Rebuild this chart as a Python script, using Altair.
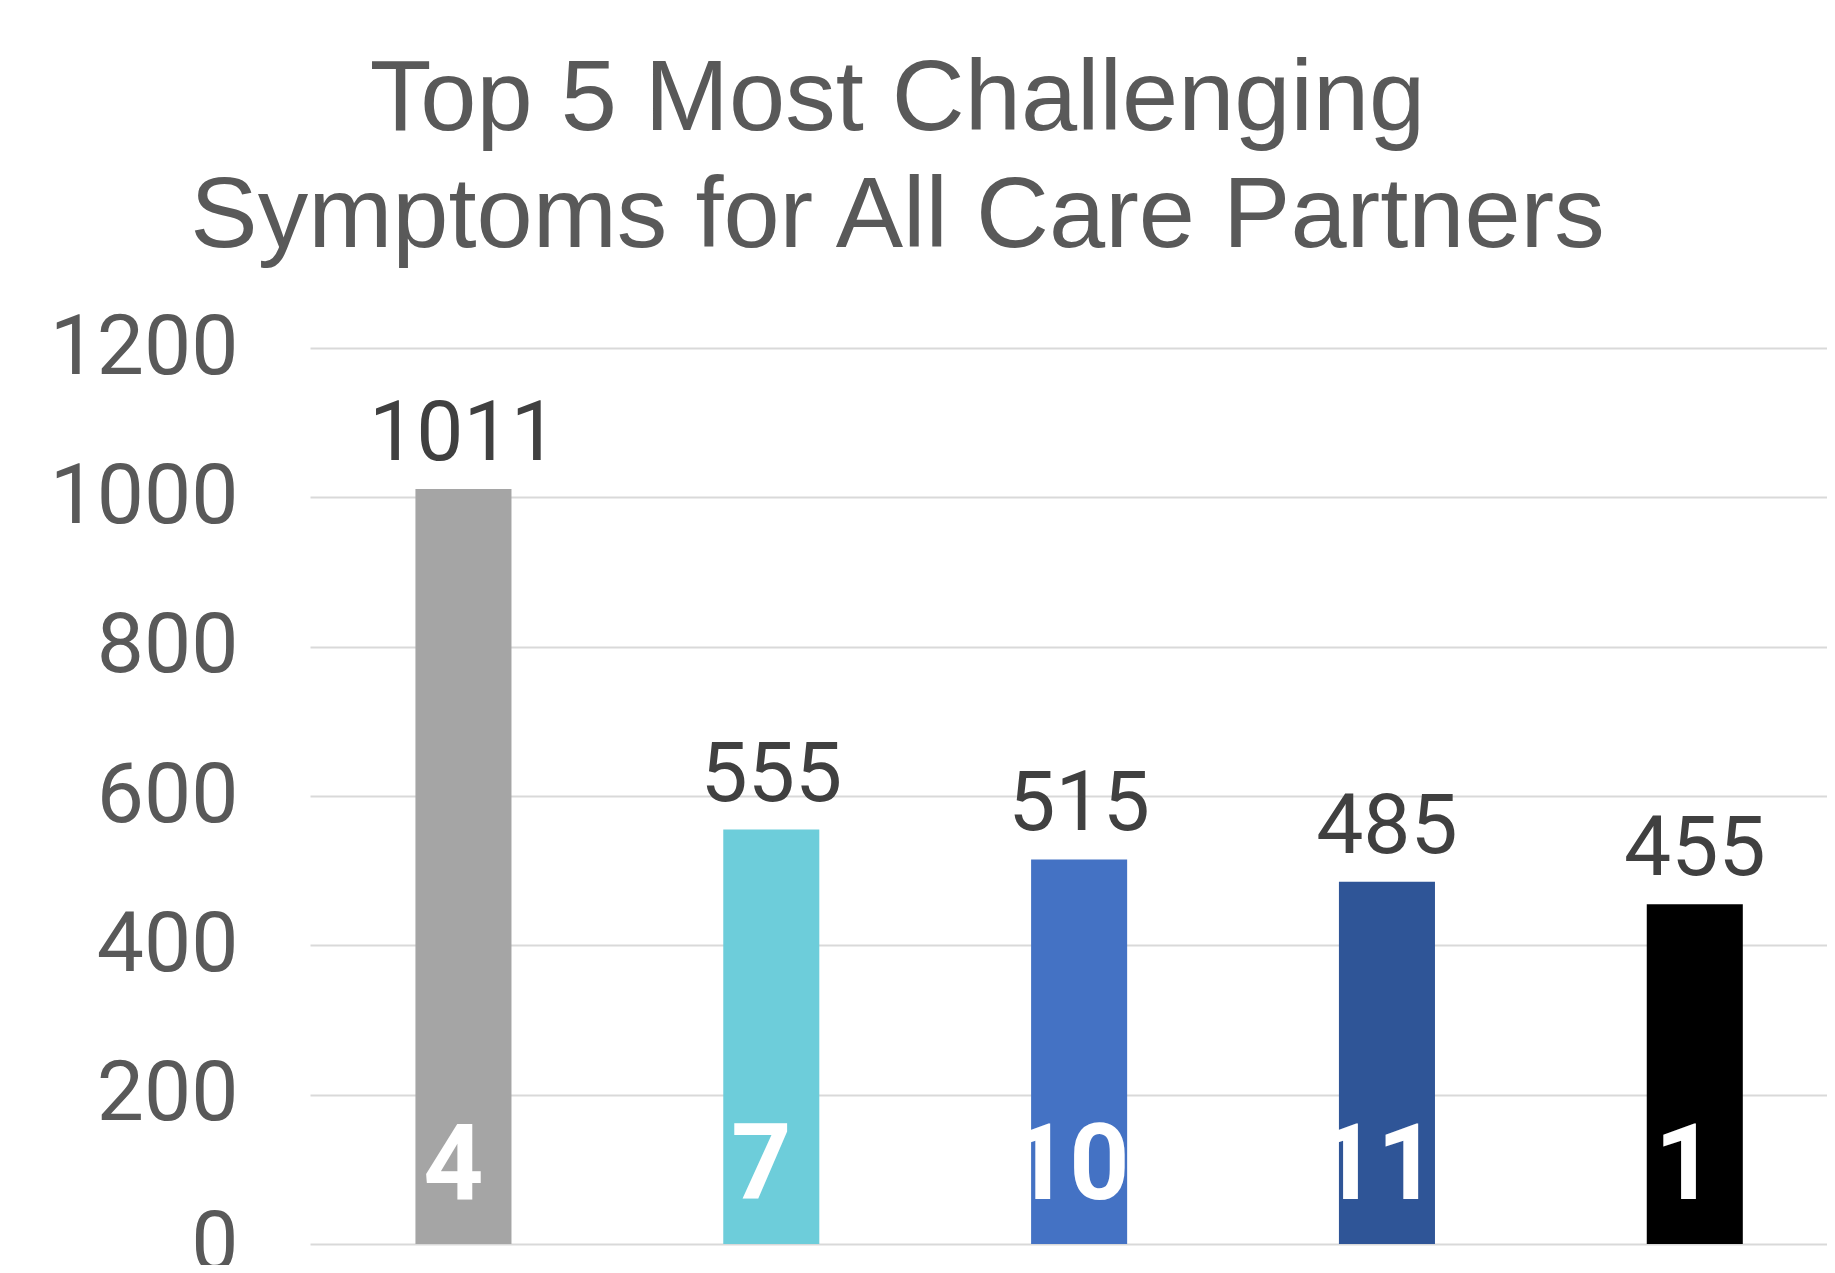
import altair as alt
import pandas as pd

symptom_ids = ["4", "7", "10", "11", "1"]
counts = [1011, 555, 515, 485, 455]
bar_colors = ["#A5A5A5", "#6DCDDA", "#4472C4", "#2F5597", "#000000"]
y_ticks = [0, 200, 400, 600, 800, 1000, 1200]
title_lines = ["Top 5 Most Challenging", "Symptoms for All Care Partners"]

df = pd.DataFrame({"id": symptom_ids, "count": counts, "color": bar_colors})

FONT = "Liberation Sans"
NUM_FONT = "Roboto"

x_enc = alt.X(
    "id:N",
    sort=symptom_ids,
    axis=None,
    scale=alt.Scale(paddingInner=0.688, paddingOuter=0.308, align=0.556),
)
y_scale = alt.Scale(domain=[0, 1200], nice=False)

base = alt.Chart(df).encode(x=x_enc)

bars = base.mark_bar().encode(
    y=alt.Y(
        "count:Q",
        scale=y_scale,
        axis=alt.Axis(
            values=y_ticks,
            format="d",
            title=None,
            ticks=False,
            domain=False,
            labelFont=NUM_FONT,
            labelFontSize=84,
            labelColor="#595959",
            labelPadding=72,
            labelLimit=500,
            gridColor="#D9D9D9",
            gridWidth=2,
        ),
    ),
    color=alt.Color("color:N", scale=None, legend=None),
)

value_labels = base.mark_text(
    dy=-29, baseline="alphabetic", font=NUM_FONT, fontSize=84, color="#404040"
).encode(y=alt.Y("count:Q", scale=y_scale), text=alt.Text("count:Q", format="d"))

inner_labels = base.mark_text(
    dy=-45, dx=-10, baseline="alphabetic", font=NUM_FONT, fontSize=105,
    fontWeight="bold", color="#FFFFFF"
).encode(y=alt.datum(0, scale=y_scale), text=alt.Text("id:N"))

chart = alt.layer(bars, value_labels, inner_labels).properties(
    width=1517,
    height=896,
    padding={"left": 302, "top": 340, "right": 0, "bottom": 21},
    autosize=alt.AutoSizeParams(type="none"),
    title=alt.TitleParams(
        title_lines,
        font=FONT,
        fontSize=101,
        fontWeight="normal",
        color="#595959",
        lineHeight=117,
        anchor="middle",
        frame="group",
        dx=-171,
        baseline="alphabetic",
        offset=-42,
    ),
).configure_view(strokeWidth=0)

chart.save("out.html", embed_options={"renderer": "svg", "actions": False})
